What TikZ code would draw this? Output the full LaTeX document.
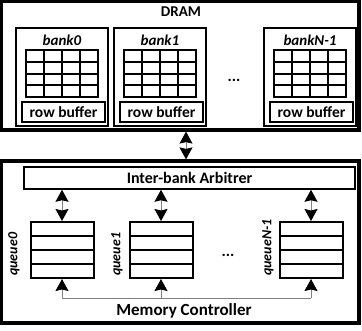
\documentclass[tikz,border=0pt]{standalone}
\usepackage{fontspec}
\setmainfont{Carlito}
\usetikzlibrary{arrows.meta}
\begin{document}
\begin{tikzpicture}[x=1pt,y=-1pt,
  outerbox/.style={draw,line width=3.2pt,inner sep=0pt},
  bankbox/.style={draw,line width=2pt,minimum width=92pt,minimum height=98pt,inner sep=0pt},
  rbbox/.style={draw,line width=2pt,minimum width=83pt,minimum height=20pt,inner sep=0pt,font=\bfseries\fontsize{15.5}{16}\selectfont},
  qbox/.style={draw,line width=2pt,minimum width=63pt,minimum height=56pt,inner sep=0pt},
  gridline/.style={line width=2pt},
  lbl/.style={inner sep=0pt,font=\bfseries\itshape\fontsize{15}{16}\selectfont},
  qlbl/.style={inner sep=0pt,rotate=90,anchor=west,font=\bfseries\itshape\fontsize{14}{15}\selectfont},
  shaft/.style={draw=gray,line width=1pt},
  darr/.style={shaft,{Stealth[length=12pt,width=13pt,inset=1.5pt,color=black]}-{Stealth[length=12pt,width=13pt,inset=1.5pt,color=black]}},
  uarr/.style={shaft,-{Stealth[length=12pt,width=13pt,inset=1.5pt,color=black]}},
  dots/.style={inner sep=0pt,font=\bfseries\fontsize{16}{16}\selectfont}]
\useasboundingbox (0,0) rectangle (362,330);
% DRAM
\node[outerbox,minimum width=358pt,minimum height=129pt] (dram) at (180,65.5) {};
\node[inner sep=0pt,font=\bfseries\fontsize{15}{16}\selectfont] (dramt) at (181,12) {DRAM};
\foreach \n/\cx/\t in {b0/62/bank0,b1/160/bank1,bn/310/bankN-1}{
  \node[bankbox] (\n) at (\cx,77) {};
  \node[lbl] (\n l) at (\cx,40) {\t};
  \draw[gridline] (\cx-36,50) rectangle (\cx+36,97);
  \foreach \dx in {-18,0,18} \draw[gridline] (\cx+\dx,50) -- (\cx+\dx,97);
  \foreach \yy in {61.75,73.5,85.25} \draw[gridline] (\cx-36,\yy) -- (\cx+36,\yy);
  \node[rbbox] (\n r) at (\cx+1.5,112) {row buffer};
}
\node[dots] (d1) at (234,80) {...};
% Memory controller
\node[outerbox,minimum width=358pt,minimum height=162pt] (mc) at (180,242) {};
\node[draw,line width=1.5pt,minimum width=331pt,minimum height=22pt,inner sep=0pt,font=\bfseries\fontsize{16}{17}\selectfont] (arb) at (189.5,178) {Inter-bank Arbitrer};
\coordinate (link) at (186,0);
\draw[darr] (dram.south -| link) -- (mc.north -| link);
\foreach \n/\cx/\t/\lx in {q0/62/queue0/14,q1/161/queue1/117,qn/311/queueN-1/268}{
  \node[qbox] (\n) at (\cx,250) {};
  \foreach \yy in {236,250,264} \draw[gridline] (\cx-31.5,\yy) -- (\cx+31.5,\yy);
  \node[qlbl] (\n l) at (\lx,276) {\t};
  \draw[darr] (\n.north |- arb.south) -- (\n.north);
}
\node[dots] (d2) at (228,255) {...};
\coordinate (bus) at (0,298);
\draw[shaft] (q0.south |- bus) -- (qn.south |- bus);
\foreach \n in {q0,q1,qn} \draw[uarr] (\n.south |- bus) -- (\n.south);
\node[inner sep=0pt,font=\bfseries\fontsize{17}{18}\selectfont] (mct) at (184,311) {Memory Controller};
\end{tikzpicture}
\end{document}
